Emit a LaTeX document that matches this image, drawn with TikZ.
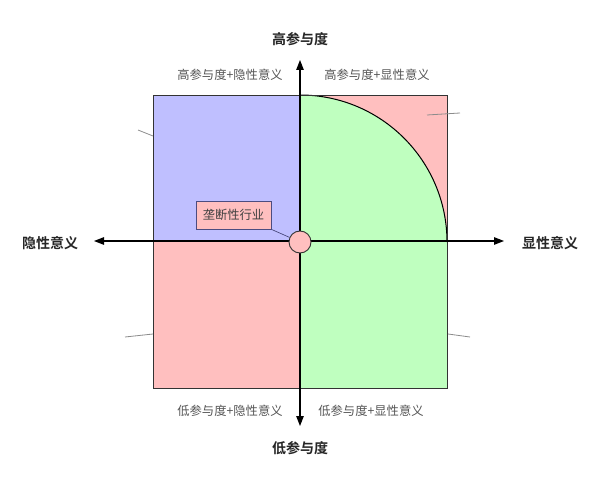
\documentclass[tikz,border=0pt]{standalone}
\usepackage{fontspec}
\setmainfont{Noto Sans CJK SC}[BoldFont=* Bold]
\usetikzlibrary{arrows.meta}
\definecolor{qblue}{HTML}{BFBFFF}
\definecolor{qpink}{HTML}{FFBFBF}
\definecolor{qgreen}{HTML}{BFFFBF}
\definecolor{lbl}{HTML}{555555}
\tikzset{
  axis/.style={line width=1.2pt, -{Triangle[length=10pt,width=7.5pt]}},
  qlabel/.style={font=\fontsize{12.3}{14}\selectfont, text=lbl, inner sep=0pt},
  alabel/.style={font=\fontsize{14}{16}\selectfont\bfseries, text=black!85, inner sep=0pt},
  stub/.style={draw=black!45, line width=0.8pt},
  tagbox/.style={draw=black!50!blue!40!gray, fill=qpink, line width=0.7pt, font=\fontsize{12.3}{14}\selectfont, text=black!75, minimum width=75pt, minimum height=28pt, inner sep=0pt},
}
\begin{document}
\begin{tikzpicture}[x=1pt,y=-1pt]
\useasboundingbox (0,0) rectangle (600,486);
\fill[white] (0,0) rectangle (600,486);
% quadrants
\fill[qblue] (153,95) rectangle (300,241);
\fill[qpink] (300,95) rectangle (447,241);
\fill[qpink] (153,241) rectangle (300,388);
\fill[qgreen] (300,241) rectangle (447,388);
\fill[qgreen] (300,242) -- (300,95) arc[start angle=270,end angle=360,radius=147] -- cycle;
\draw[line width=1pt] (300,95) arc[start angle=270,end angle=360,radius=147];
\draw[draw=black!80, line width=0.9pt] (153,95) rectangle (447,388);
% stubs
\draw[stub] (138,130) -- (153,136);
\draw[stub] (427,115) -- (460,113);
\draw[stub] (125,337) -- (153,334);
\draw[stub] (448,334) -- (470,337);
% axes
\coordinate (c) at (300,241);
\coordinate (l) at (94,241);
\coordinate (r) at (504,241);
\coordinate (t) at (300,60);
\coordinate (b) at (300,426);
\draw[axis] (c) -- (l);
\draw[axis] (c) -- (r);
\draw[axis] (c) -- (t);
\draw[axis] (c) -- (b);
% labels
\node[alabel] (top) at (300,39) {高参与度};
\node[alabel] (bot) at (300,448) {低参与度};
\node[alabel] (lft) at (50,243) {隐性意义};
\node[alabel] (rgt) at (550,243) {显性意义};
\node[qlabel] (q1) at (230,75) {高参与度+隐性意义};
\node[qlabel] (q2) at (377,75) {高参与度+显性意义};
\node[qlabel] (q3) at (230,411) {低参与度+隐性意义};
\node[qlabel] (q4) at (371,411) {低参与度+显性意义};
% tag
\node[tagbox] (tag) at (233.5,215) {垄断性行业};
\node[circle, draw=black!80, fill=qpink, line width=0.9pt, minimum size=22pt, inner sep=0pt] (dot) at (300,242) {};
\draw[draw=black!50!blue!40!gray, line width=0.7pt] (tag.south east) -- (dot);
\end{tikzpicture}
\end{document}
